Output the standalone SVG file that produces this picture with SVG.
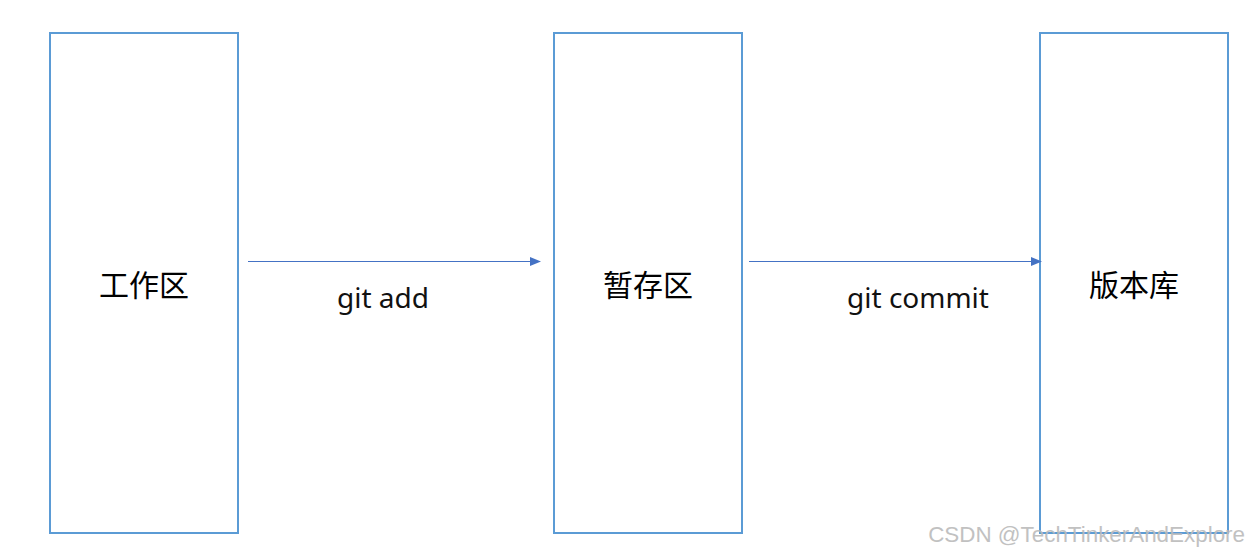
<svg xmlns="http://www.w3.org/2000/svg" width="1249" height="553" viewBox="0 0 1249 553">
<style>
.box{fill:#fff;stroke:#5B9BD5;stroke-width:2}
.lbl{font-family:"Noto Sans CJK SC","Noto Sans",sans-serif;font-size:30px;fill:#000;text-anchor:middle}
.elbl{font-family:"Noto Sans","Noto Sans CJK SC",sans-serif;font-size:28px;fill:#111;text-anchor:middle}
.conn{stroke:#4472C4;stroke-width:1.2;fill:none}
</style>
<defs>
<marker id="arr" markerWidth="11" markerHeight="9" refX="10" refY="4.5" orient="auto" markerUnits="userSpaceOnUse">
<path d="M0,0 L11,4.5 L0,9 Z" fill="#4472C4"/>
</marker>
</defs>
<rect width="1249" height="553" fill="#fff"/>
<g id="node-work">
<rect class="box" x="50" y="33" width="188" height="500"/>
<text class="lbl" x="144" y="296">工作区</text>
</g>
<g id="node-stage">
<rect class="box" x="554" y="33" width="188" height="500"/>
<text class="lbl" x="648" y="296">暂存区</text>
</g>
<g id="node-repo">
<rect class="box" x="1040" y="33" width="188" height="500"/>
<text class="lbl" x="1134" y="296">版本库</text>
</g>
<g id="connectors">
<line class="conn" x1="248" y1="261.5" x2="540" y2="261.5" marker-end="url(#arr)"/>
<text class="elbl" x="383" y="308">git add</text>
<line class="conn" x1="749" y1="261.5" x2="1041" y2="261.5" marker-end="url(#arr)"/>
<text class="elbl" x="918" y="308">git commit</text>
</g>
<text x="1245" y="542" font-family="Liberation Sans, Arial, sans-serif" font-size="22.4" fill="#bbb" text-anchor="end" opacity="0.9">CSDN @TechTinkerAndExplore</text>
</svg>
